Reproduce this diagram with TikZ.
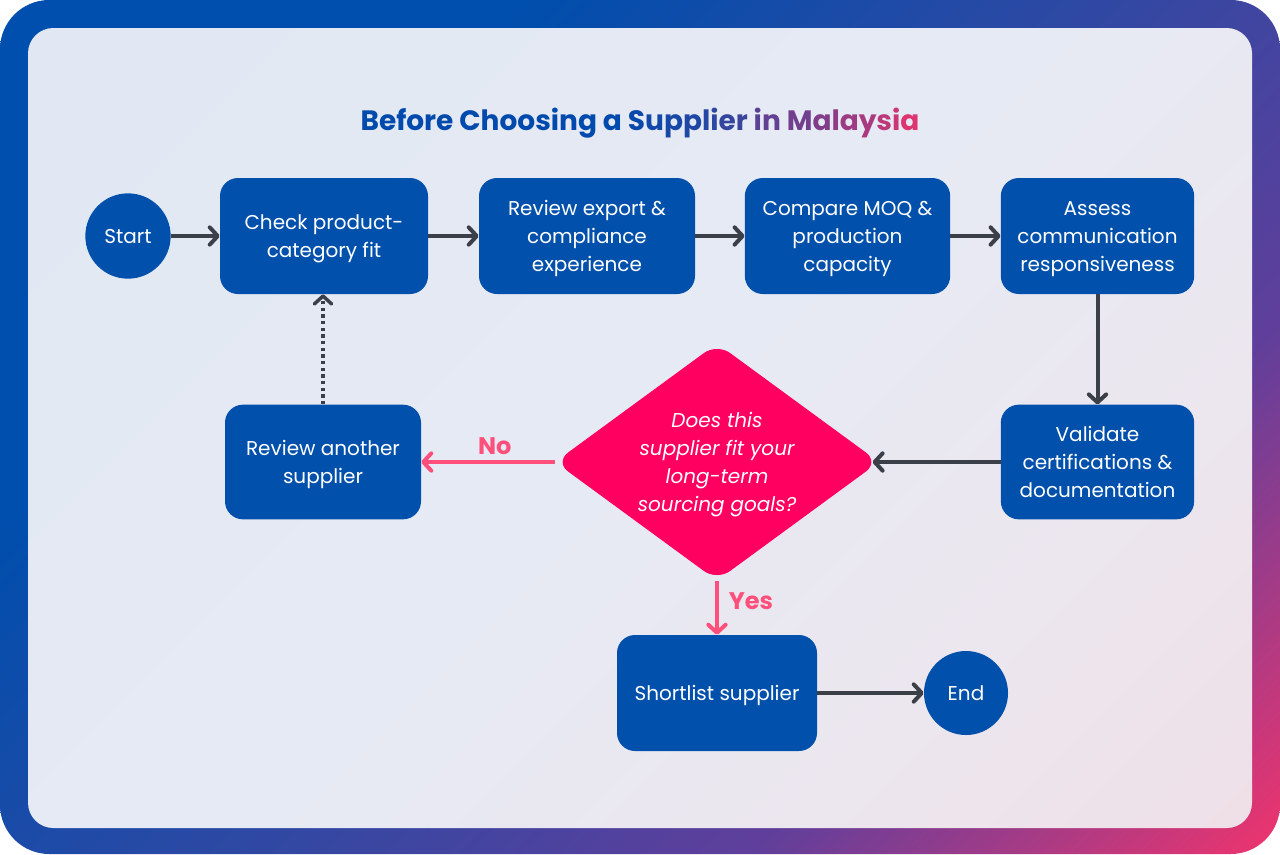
\documentclass[tikz,border=0pt]{standalone}
\usepackage{fontspec}
\setmainfont{Poppins}
\usepackage{xcolor}
\usetikzlibrary{shapes.geometric,arrows.meta,positioning,calc}
\definecolor{fblue}{HTML}{004EAD}
\definecolor{fmid}{HTML}{2C49A4}
\definecolor{fpurp}{HTML}{603F9B}
\definecolor{fmag}{HTML}{B03A82}
\definecolor{fpink}{HTML}{F5336C}
\definecolor{pa}{HTML}{E1E8F3}
\definecolor{pb}{HTML}{E6EAF4}
\definecolor{pc}{HTML}{ECE6EE}
\definecolor{pd}{HTML}{EFE0E8}
\definecolor{boxblue}{HTML}{0050AC}
\definecolor{ink}{HTML}{3B3F48}
\definecolor{qpink}{HTML}{FF0061}
\definecolor{lpink}{HTML}{FF4F7B}
\definecolor{tblue}{HTML}{004AAD}
\definecolor{tpink}{HTML}{EE336D}
\pgfdeclarehorizontalshading{frameshade}{100bp}{color(0bp)=(fblue); color(32bp)=(fblue);
  color(50bp)=(fmid); color(68bp)=(fpurp); color(78bp)=(fmag); color(86bp)=(fpink); color(100bp)=(fpink)}
\pgfdeclarehorizontalshading{panelshade}{100bp}{color(0bp)=(pa); color(15bp)=(pa);
  color(50bp)=(pb); color(70bp)=(pc); color(85bp)=(pd); color(100bp)=(pd)}
\newcommand{\tc}[2]{\textcolor{tpink!#1!tblue}{#2}}
\newcommand{\tl}{\rule{0pt}{15pt}}
\newcommand{\bl}{\rule[-3.5pt]{0pt}{0pt}}

\begin{document}
\begin{tikzpicture}[x=0.75pt,y=-0.75pt,
  font=\fontsize{15}{21}\selectfont,
  stepbox/.style={rounded corners=13.5pt,fill=boxblue,text=white,minimum height=87pt,
                  inner sep=4pt,align=center},
  endpt/.style={circle,fill=boxblue,text=white,minimum size=64pt,inner sep=0pt,
                execute at begin node={\rule{0pt}{11pt}}},
  query/.style={diamond,aspect=1.38,fill=qpink,text=white,rounded corners=12pt,inner sep=0pt,
                minimum width=243pt,minimum height=178pt,align=center,
                font=\fontsize{15}{21}\selectfont\itshape},
  arr/.style={-{Straight Barb[length=6pt,width=13pt,line cap=round,line join=round]},
              line width=3pt,ink},
  parr/.style={-{Straight Barb[length=6pt,width=13pt,line cap=round,line join=round]},
               line width=3pt,lpink},
  lab/.style={font=\fontsize{18}{20}\selectfont\bfseries,text=lpink}]
\useasboundingbox (0,0) rectangle (1280,854);
% frame and panel
\shade[shading=frameshade,shading angle=-45,rounded corners=37pt] (0,0) rectangle (1280,854);
\shade[shading=panelshade,shading angle=-45,rounded corners=19pt] (28,28) rectangle (1252,828);
% title
\node[font=\fontsize{21}{25}\selectfont\bfseries] (title) at (640,123)
  {\textcolor{tblue}{Before Choosing a }\tc{4}{S}\tc{7}{u}\tc{10}{p}\tc{13}{p}\tc{16}{l}\tc{19}{i}\tc{22}{e}\tc{25}{r}
   \tc{38}{i}\tc{42}{n} \tc{48}{M}\tc{54}{a}\tc{60}{l}\tc{66}{a}\tc{72}{y}\tc{79}{s}\tc{86}{i}\tc{93}{a}};
% nodes
\node[endpt] (start) at (128,236) {Start};
\node[stepbox,minimum width=156pt] (check) at (324,236) {\tl Check product-\\category fit};
\node[stepbox,minimum width=162pt] (export) at (587,236) {\tl Review export \&\\compliance\\experience};
\node[stepbox,minimum width=154pt] (moq) at (847.5,236) {\tl Compare MOQ \&\\production\\capacity};
\node[stepbox,minimum width=145pt] (assess) at (1097.5,236) {\tl Assess\\communication\\responsiveness};
\node[stepbox,minimum width=145pt,minimum height=86pt] (valid) at (1097.5,462) {\tl Validate\\certifications \&\\documentation\bl};
\node[query] (fit) at (717,462) {\tl Does this\\supplier fit your\\long-term\\sourcing goals?};
\node[stepbox,minimum width=147pt,minimum height=86pt] (other) at (323,462) {\tl Review another\\supplier};
\node[stepbox,minimum width=150pt] (short) at (717,693) {\tl Shortlist supplier};
\node[endpt,minimum size=63pt] (end) at (966,693) {End};
% connectors
\draw[arr] (start) -- (check);
\draw[arr] (check) -- (export);
\draw[arr] (export) -- (moq);
\draw[arr] (moq) -- (assess);
\draw[arr] (assess) -- (valid);
\draw[arr,shorten >=-5pt] (valid) -- (fit);
\draw[parr] (fit) -- node[lab,above=1pt,pos=0.45] {No} (other);
\draw[parr] (fit) -- node[lab,right=4pt,pos=0.38] {Yes} (short);
\draw[arr,line width=2.6pt,dash pattern=on 2.5pt off 2.5pt] (other.north) -- (other.north |- check.south);
\draw[arr] (short) -- (end);
\end{tikzpicture}
\end{document}
